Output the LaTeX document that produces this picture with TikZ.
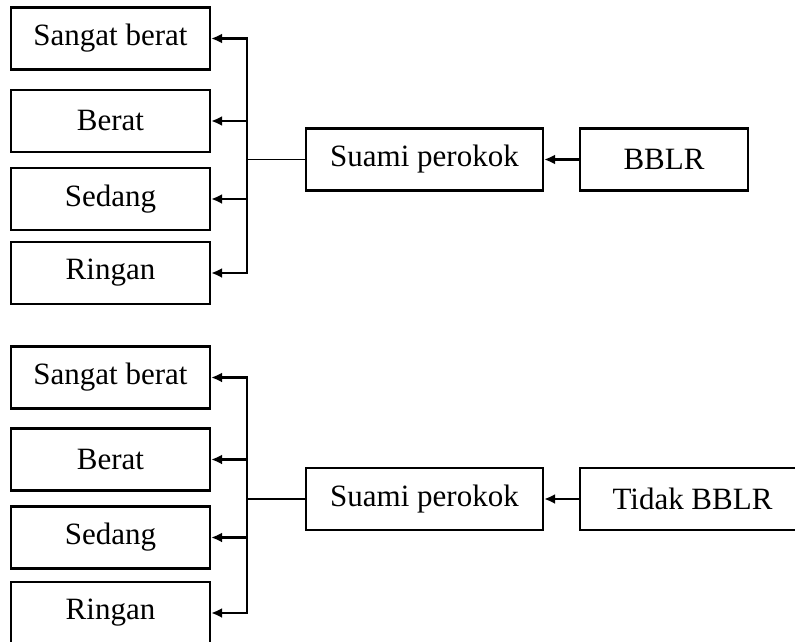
\documentclass[tikz,border=0pt]{standalone}
\usepackage{fontspec}
\setmainfont{Liberation Serif}
\usetikzlibrary{arrows.meta,positioning}

\begin{document}
\begin{tikzpicture}[x=1pt,y=-1pt,
    box/.style={draw,line width=2.2pt,minimum height=62pt,inner sep=0pt,
      font=\fontsize{31}{36}\selectfont},
    arr/.style={-{Latex[length=11pt,width=10pt]},line width=2.6pt}]
  \clip (0,0) rectangle (795,642);
  % BBLR
  \node[box,minimum width=199pt] (sb1) at (110.5,38.5) {Sangat berat};
  \node[box,minimum width=199pt] (b1) at (110.5,121) {Berat};
  \node[box,minimum width=199pt] (sd1) at (110.5,199) {Sedang};
  \node[box,minimum width=199pt] (r1) at (110.5,273) {Ringan};
  \node[box,minimum width=237pt] (sp1) at (424.5,159.5) {Suami perokok};
  \node[box,minimum width=168pt] (bblr) at (664,159.5) {BBLR};
  \coordinate (bus1) at (247,159.5);
  \draw[arr] (bblr) -- (sp1);
  \draw[line width=1.5pt] (sp1.west) -- (bus1);
  \foreach \n in {sb1,b1,sd1,r1}
    \draw[arr] (bus1) |- (\n.east);
  % Tidak BBLR
  \node[box,minimum width=199pt] (sb2) at (110.5,377.5) {Sangat berat};
  \node[box,minimum width=199pt] (b2) at (110.5,459.5) {Berat};
  \node[box,minimum width=199pt] (sd2) at (110.5,537.5) {Sedang};
  \node[box,minimum width=199pt] (r2) at (110.5,613) {Ringan};
  \node[box,minimum width=237pt] (sp2) at (424.5,499) {Suami perokok};
  \node[box,minimum width=225pt] (tbblr) at (692.5,499) {Tidak BBLR};
  \coordinate (bus2) at (247,499);
  \draw[arr] (tbblr) -- (sp2);
  \draw[line width=1.5pt] (sp2.west) -- (bus2);
  \foreach \n in {sb2,b2,sd2,r2}
    \draw[arr] (bus2) |- (\n.east);
\end{tikzpicture}
\end{document}
